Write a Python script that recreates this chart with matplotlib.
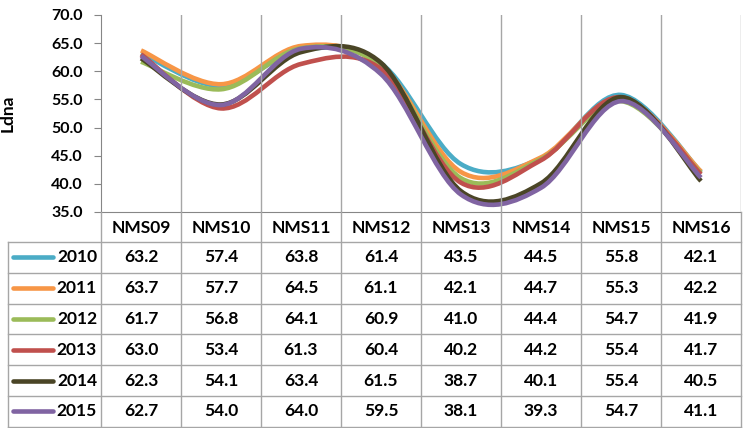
import numpy as np
import matplotlib.pyplot as plt
from matplotlib.path import Path
from matplotlib.patches import PathPatch

plt.rcParams['font.family'] = ['Lato', 'DejaVu Sans']

kategorie = ['NMS09', 'NMS10', 'NMS11', 'NMS12', 'NMS13', 'NMS14', 'NMS15', 'NMS16']
roky = ['2010', '2011', '2012', '2013', '2014', '2015']
hodnoty = [
    [63.2, 57.4, 63.8, 61.4, 43.5, 44.5, 55.8, 42.1],
    [63.7, 57.7, 64.5, 61.1, 42.1, 44.7, 55.3, 42.2],
    [61.7, 56.8, 64.1, 60.9, 41.0, 44.4, 54.7, 41.9],
    [63.0, 53.4, 61.3, 60.4, 40.2, 44.2, 55.4, 41.7],
    [62.3, 54.1, 63.4, 61.5, 38.7, 40.1, 55.4, 40.5],
    [62.7, 54.0, 64.0, 59.5, 38.1, 39.3, 54.7, 41.1],
]
barvy = ['#4BACC6', '#F79646', '#9BBB59', '#C0504D', '#4A4526', '#8064A2']

W, H = 744, 428
x0, x1, ytop, ybot = 101, 741, 15, 212
fig = plt.figure(figsize=(W / 100, H / 100), dpi=100)
ax = fig.add_axes([x0 / W, 1 - ybot / H, (x1 - x0) / W, (ybot - ytop) / H])


def hladka_cesta(xs, ys):
    # Excel-like smoothing: Catmull-Rom as cubic Bezier
    p = np.column_stack([xs, ys])
    n = len(p)
    verts = [p[0]]
    codes = [Path.MOVETO]
    for i in range(n - 1):
        a = p[i - 1] if i > 0 else p[i]
        d = p[i + 2] if i + 2 < n else p[i + 1]
        c1 = p[i] + (p[i + 1] - a) / 6
        c2 = p[i + 1] - (d - p[i]) / 6
        verts += [c1, c2, p[i + 1]]
        codes += [Path.CURVE4] * 3
    return Path(verts, codes)


xs = np.arange(len(kategorie)) + 0.5
for vals, c in zip(hodnoty, barvy):
    ax.add_patch(PathPatch(hladka_cesta(xs, vals), fill=False, edgecolor=c,
                           lw=3.3, capstyle='butt', joinstyle='round'))

ax.set_xlim(0, len(kategorie))
ax.set_ylim(35, 70)
ax.set_yticks(np.arange(35, 70.1, 5))
ax.set_yticklabels([f'{v:.1f}' for v in np.arange(35, 70.1, 5)],
                   fontsize=11.5, fontweight='bold')
ax.tick_params(axis='y', length=5, color='#868686', pad=8)
ax.set_xticks([])
for k in range(1, len(kategorie) + 1):
    ax.axvline(k, color='#A6A6A6', lw=1)
for s in ['top', 'right']:
    ax.spines[s].set_visible(False)
for s in ['left', 'bottom']:
    ax.spines[s].set_color('#868686')
ax.set_ylabel('Ldna', fontsize=12.5, fontweight='bold', labelpad=26)

# data table drawn in pixel coordinates
tab = fig.add_axes([0, 0, 1, 1], facecolor='none')
tab.set_xlim(0, W)
tab.set_ylim(H, 0)
tab.axis('off')
cw = (x1 - x0) / len(kategorie)
hdr_top, row_top, row_h = ybot, 242, 30.8
row_bot = row_top + row_h * len(roky)
lc = '#A6A6A6'
for k in range(len(kategorie) + 1):
    tab.plot([x0 + k * cw] * 2, [hdr_top, row_bot], color=lc, lw=1)
tab.plot([8, 8], [row_top, row_bot], color=lc, lw=1)
for r in range(len(roky) + 1):
    tab.plot([8, x1], [row_top + r * row_h] * 2, color=lc, lw=1)
for k, name in enumerate(kategorie):
    tab.text(x0 + (k + 0.5) * cw, (hdr_top + row_top) / 2 + 1, name, ha='center',
             va='center', fontsize=12.5, fontweight='bold')
for r, (rok, vals, c) in enumerate(zip(roky, hodnoty, barvy)):
    yc = row_top + (r + 0.5) * row_h
    tab.plot([13, 53], [yc, yc], color=c, lw=3.3, solid_capstyle='round')
    tab.text(97, yc, rok, ha='right', va='center', fontsize=12.5, fontweight='bold')
    for k, v in enumerate(vals):
        tab.text(x0 + (k + 0.5) * cw, yc, f'{v:.1f}', ha='center', va='center',
                 fontsize=12.5, fontweight='bold')

fig.savefig('out.png', dpi=100)
